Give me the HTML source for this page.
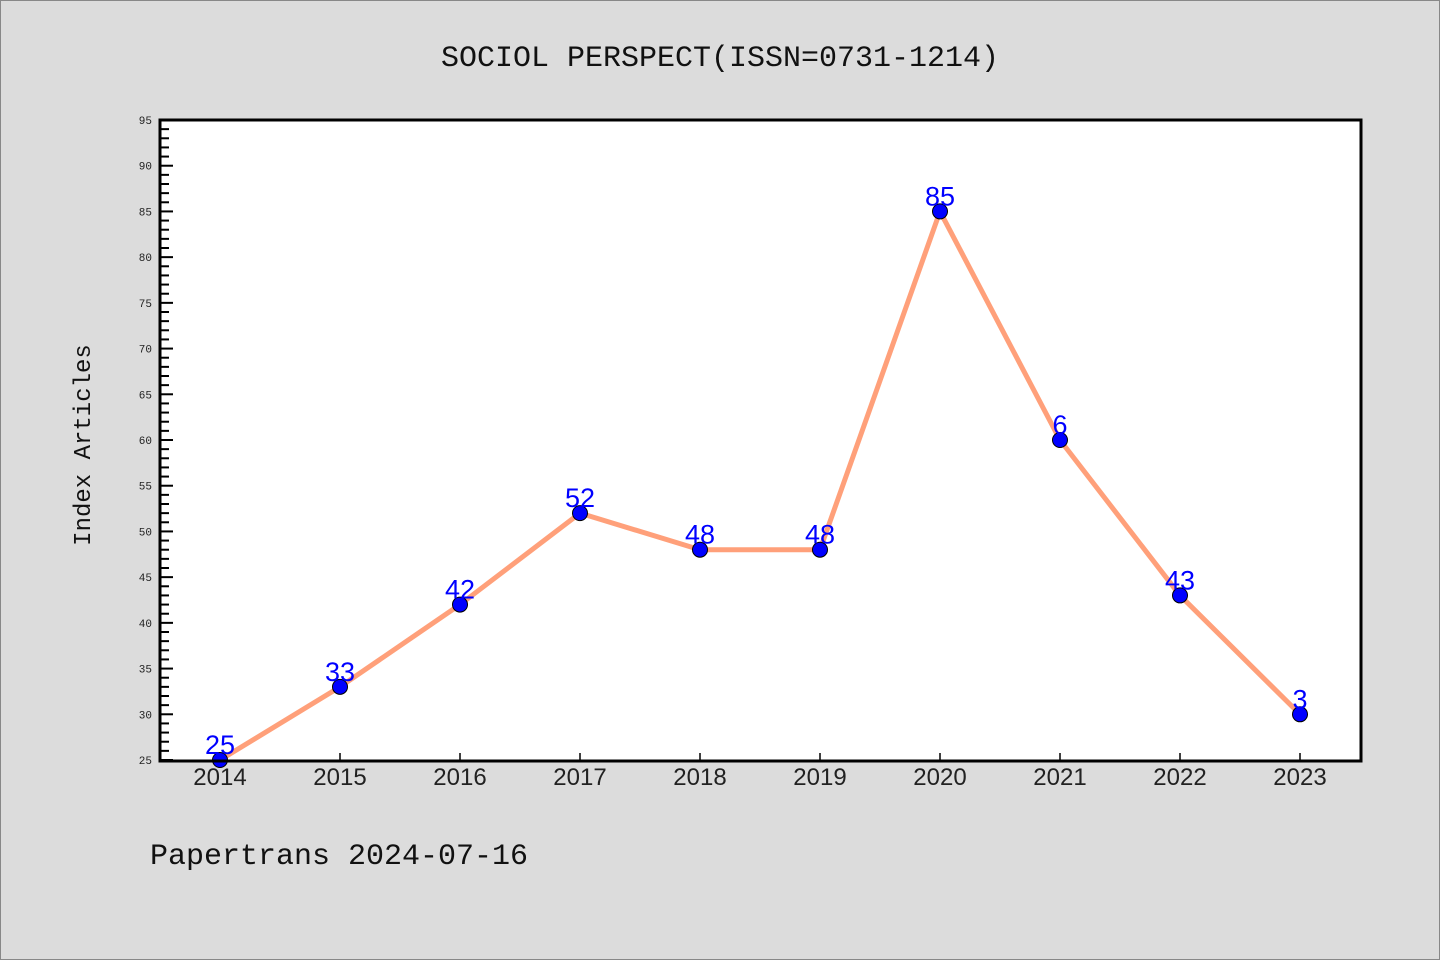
<!DOCTYPE html>
<html><head><meta charset="utf-8"><style>
body{margin:0;background:#dcdcdc;}
svg{display:block;font-family:"Liberation Mono","DejaVu Sans Mono",monospace;}
</style></head><body>
<svg id="c" width="1440" height="960">
<rect x="0.5" y="0.5" width="1439" height="959" fill="#dcdcdc" stroke="#888"/>
<text x="720" y="66" text-anchor="middle" font-size="30" fill="#111">SOCIOL PERSPECT(ISSN=0731-1214)</text>
<text transform="translate(90,445) rotate(-90)" text-anchor="middle" font-size="24" fill="#111">Index Articles</text>
<text x="150" y="864" font-size="30" fill="#111">Papertrans 2024-07-16</text>
<rect x="160" y="120" width="1201" height="641" fill="#fff"/>
<g id="ticks"></g>
<g id="marks"></g>
<rect x="160" y="120" width="1201" height="641" fill="none" stroke="#000" stroke-width="3"/>
</svg>
<script>
const categories=["2014","2015","2016","2017","2018","2019","2020","2021","2022","2023"];
const values=[25,33,42,52,48,48,85,60,43,30];
const valueLabels=["25","33","42","52","48","48","85","6","43","3"];
const yTicks=[25,30,35,40,45,50,55,60,65,70,75,80,85,90,95];
const NS="http://www.w3.org/2000/svg";
const yMin=25,yMax=95,plotTop=120,plotBot=760;
function yPos(v){return plotBot-(v-yMin)/(yMax-yMin)*(plotBot-plotTop);}
function xPos(i){return 220+i*120;}
function mk(t,a,p){const e=document.createElementNS(NS,t);for(const k in a)e.setAttribute(k,a[k]);p.appendChild(e);return e;}
const tg=document.getElementById('ticks'),mg=document.getElementById('marks');
for(let v=yMin;v<=yMax;v++){
 const l=mk('line',{x1:160,x2:(v%5==0)?173:169,y1:yPos(v),y2:yPos(v),stroke:'#000','stroke-width':2},tg);
 
 
}
yTicks.forEach(v=>{
 const t=mk('text',{x:152,y:yPos(v)+4,'text-anchor':'end','font-size':11,fill:'#222'},tg);
 t.textContent=v;
 
 
});
categories.forEach((c,i)=>{
 const l=mk('line',{x1:xPos(i),x2:xPos(i),y1:760,y2:753,stroke:'#000','stroke-width':1.5},tg);
 
 
 const t=mk('text',{x:xPos(i),y:785,'text-anchor':'middle','font-size':24,fill:'#222','font-family':'Liberation Sans, sans-serif'},tg);
 t.textContent=c;
 
 
});
const pl=mk('polyline',{points:values.map((v,i)=>xPos(i)+','+yPos(v)).join(' '),fill:'none',stroke:'#ffa07a','stroke-width':5,'stroke-linejoin':'round'},mg);


values.forEach((v,i)=>{
 const c=mk('circle',{cx:xPos(i),cy:yPos(v),r:7.5,fill:'#0000ff',stroke:'#000','stroke-width':1},mg);
 
 
 const t=mk('text',{x:xPos(i),y:yPos(v)-6,'text-anchor':'middle','font-size':27,fill:'#0000ff','font-family':'Liberation Sans, sans-serif'},mg);
 t.textContent=valueLabels[i];
 
 
});
</script>
</body></html>
